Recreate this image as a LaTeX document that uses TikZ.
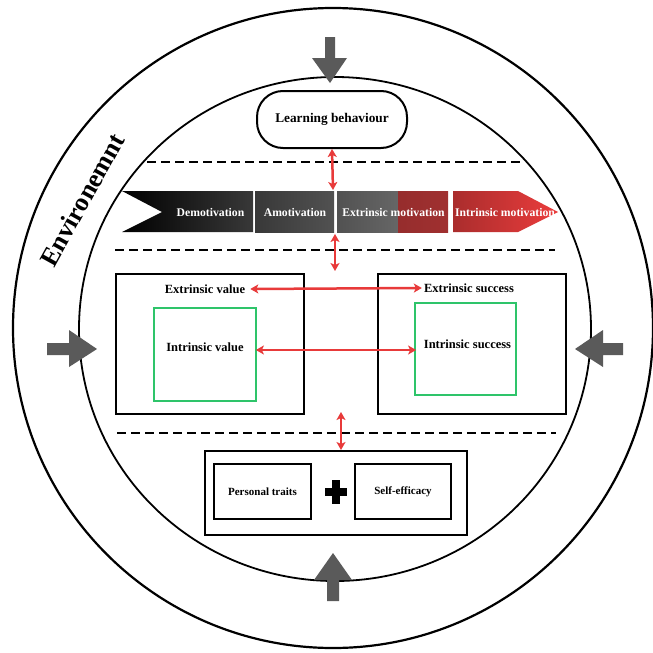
\documentclass[tikz,border=0pt]{standalone}
\usepackage{fontspec}
\setmainfont{Liberation Serif}
\usetikzlibrary{arrows.meta}
\definecolor{arrowgray}{HTML}{5A5A5A}
\definecolor{linkred}{HTML}{E83A3A}
\definecolor{boxgreen}{HTML}{2EC46A}
\tikzset{
  box/.style={draw=black, line width=2pt, inner sep=0pt},
  greenbox/.style={draw=boxgreen, line width=1.8pt, inner sep=0pt},
  lbl/.style={font=\bfseries\fontsize{12.5}{14}\selectfont, inner sep=1pt},
  smalllbl/.style={font=\bfseries\fontsize{11}{13}\selectfont, inner sep=1pt},
  bantext/.style={text=white, font=\bfseries\fontsize{11.7}{13}\selectfont, inner sep=0pt},
  dashline/.style={line width=2.2pt, dash pattern=on 9pt off 5pt},
  redlink/.style={draw=linkred, line width=2.5pt, {Stealth[length=8pt,width=9pt,inset=2pt]}-{Stealth[length=8pt,width=9pt,inset=2pt]}},
  grayarrow/.style={fill=arrowgray, draw=none},
}
\begin{document}
\begin{tikzpicture}[x=1pt,y=-1pt]
\useasboundingbox (0,0) rectangle (653,653);
\fill[white] (0,0) rectangle (653,653);
% circles
\draw[line width=2.2pt] (333,328) circle [radius=320];
\draw[line width=1.8pt] (335,329) ellipse [x radius=256, y radius=252];
% environment label
\node[font=\bfseries\fontsize{26}{30}\selectfont, rotate=61] (env) at (82,200) {Environemnt};
% gray arrows
\path[grayarrow] (325,37) -- (335,37) -- (335,58) -- (347,58) -- (330,83) -- (312,58) -- (325,58) -- cycle;
\path[grayarrow] (623,343) -- (623,355) -- (603,355) -- (603,367) -- (575,349) -- (603,330) -- (603,343) -- cycle;
\path[grayarrow] (47,343) -- (47,355) -- (69,355) -- (69,367) -- (97,349) -- (69,330) -- (69,343) -- cycle;
\path[grayarrow] (327,601) -- (339,601) -- (339,580) -- (352,580) -- (333,553) -- (314,580) -- (327,580) -- cycle;
% learning behaviour
\node[box, rounded corners=26pt, minimum width=150pt, minimum height=57pt, font=\bfseries\fontsize{13.3}{15}\selectfont] (lb) at (332,119.5) {Learning behaviour};
% dashed separators
\draw[dashline] (147,162) -- (523,162);
\draw[dashline] (115,250) -- (555,250);
\draw[dashline] (117,433) -- (556,433);
% banner
\shade[left color=black, right color=black!78] (122,191) -- (253,191) -- (253,232) -- (122,232) -- (162,212) -- cycle;
\shade[left color=black!78, right color=black!68] (255,191) rectangle (334,232);
\shade[left color=black!68, right color=black!60] (337,191) rectangle (398,232);
\shade[left color={rgb,255:red,150;green,45;blue,45}, right color={rgb,255:red,160;green,48;blue,48}] (398,191) rectangle (448,232);
\shade[left color={rgb,255:red,170;green,45;blue,45}, right color={rgb,255:red,235;green,60;blue,60}] (453,191) -- (518,191) -- (558,212) -- (518,232) -- (453,232) -- cycle;
\node[bantext] (demo) at (210.5,212) {Demotivation};
\node[bantext] (amo) at (295,212) {Amotivation};
\node[bantext] (extm) at (393.5,212) {Extrinsic motivation};
\node[bantext] (intm) at (505,212) {Intrinsic motivation};
\coordinate (bantop) at (333,190);
\coordinate (banbot) at (335,234);
% value / success boxes
\node[box, minimum width=188pt, minimum height=140pt] (vbox) at (210,344) {};
\node[box, minimum width=188pt, minimum height=140pt] (sbox) at (472,344) {};
\node[greenbox, minimum width=102pt, minimum height=93pt] (ivbox) at (205,354.5) {};
\node[greenbox, minimum width=101pt, minimum height=92pt] (isbox) at (465.5,349) {};
\node[lbl] (ev) at (205,289) {Extrinsic value};
\node[lbl] (es) at (469,288) {Extrinsic success};
\node[lbl] (iv) at (205,347) {Intrinsic value};
\node[lbl] (is) at (467.5,344) {Intrinsic success};
% bottom box
\node[box, minimum width=262pt, minimum height=84pt] (bot) at (336,493) {};
\node[box, line width=1.8pt, minimum width=97pt, minimum height=55pt, smalllbl] (pt) at (262.5,491.5) {Personal traits};
\node[box, line width=1.8pt, minimum width=96pt, minimum height=55pt, smalllbl] (se) at (403,491.5) {Self-efficacy};
\fill (332,480) rectangle (340,504);
\fill (325,488) rectangle (347,496);
\coordinate (midtop) at (341,412);
% red links
\draw[redlink] (lb.south) -- (bantop);
\draw[redlink] (banbot) -- (335,271) coordinate (vtarget);
\draw[redlink] ([xshift=4pt]ev.east) -- ([xshift=-1pt]es.west);
\draw[redlink] ([xshift=-1pt]ivbox.east |- 0,350) -- ([xshift=2pt]isbox.west |- 0,350);
\draw[redlink] (midtop) -- (midtop |- bot.north);
\end{tikzpicture}
\end{document}
